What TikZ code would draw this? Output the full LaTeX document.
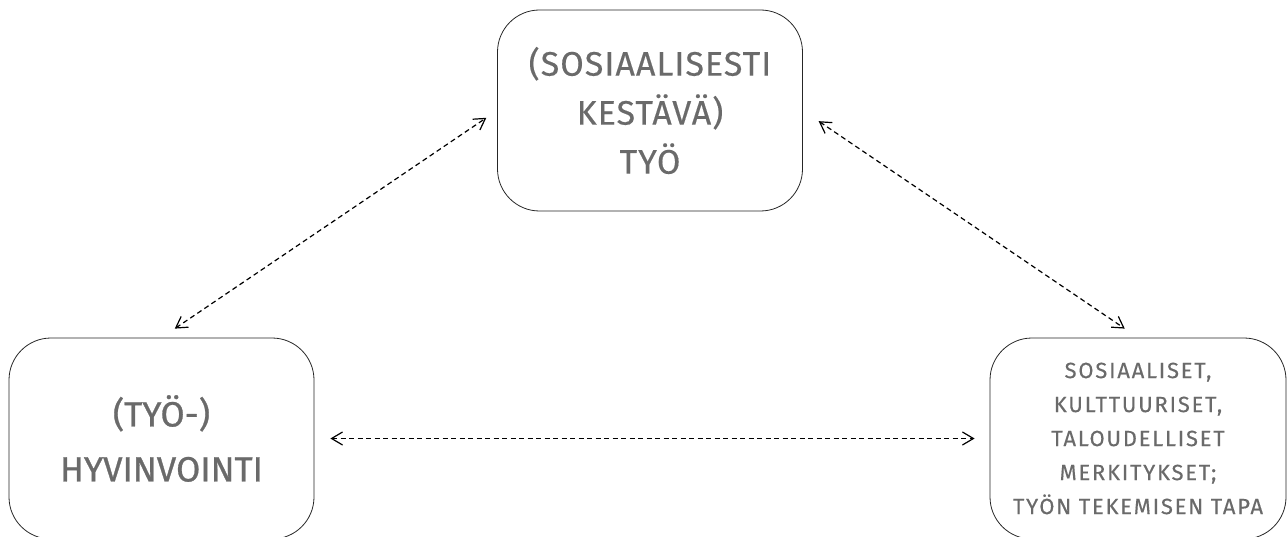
\documentclass[tikz,border=0pt]{standalone}
\usepackage{fontspec}
\setmainfont{Fira Sans}
\newfontfamily\boxfont[LetterSpace=3,FakeBold=0.4]{Fira Sans}
\newfontfamily\bigfont[FakeBold=0.8]{Fira Sans}
\newfontfamily\smallfont[LetterSpace=8,FakeBold=0.3]{Fira Sans}
\usetikzlibrary{arrows.meta}
\definecolor{txtgray}{HTML}{6A6A6A}
\begin{document}
\begin{tikzpicture}[x=1pt,y=-1pt, line join=round,
		box/.style={draw=black!85, line width=0.8pt, rounded corners=42pt, minimum width=305pt, minimum height=201pt, align=center, text=txtgray, inner sep=0pt},
		link/.style={dashed, dash pattern=on 5pt off 3.5pt, line width=1.2pt, {Straight Barb[length=11pt,width=13pt]}-{Straight Barb[length=11pt,width=13pt]}}]
	\useasboundingbox (0,0) rectangle (1287,537);
	% Laatikot
	\node[box, font=\boxfont\fontsize{34}{49}\selectfont] (tyo) at (650,110.5) {(SOSIAALISESTI\\KESTÄVÄ)\\TYÖ};
	\node[box, font=\bigfont\fontsize{35}{55}\selectfont] (hyv) at (161.5,438.5) {(TYÖ-)\\HYVINVOINTI};
	\node[box, minimum width=296pt, font=\smallfont\fontsize{22}{34}\selectfont] (mer) at (1138,438.5) {SOSIAALISET,\\KULTTUURISET,\\TALOUDELLISET\\MERKITYKSET;\\TYÖN TEKEMISEN TAPA};
	% Nuolet
	\draw[link, shorten <=16pt, shorten >=13pt] (hyv.north) -- (tyo.west);
	\draw[link, shorten <=19pt, shorten >=16pt] (tyo.east) -- (mer.north);
	\draw[link, shorten <=16pt, shorten >=15pt] (hyv.east) -- (mer.west);
\end{tikzpicture}
\end{document}
